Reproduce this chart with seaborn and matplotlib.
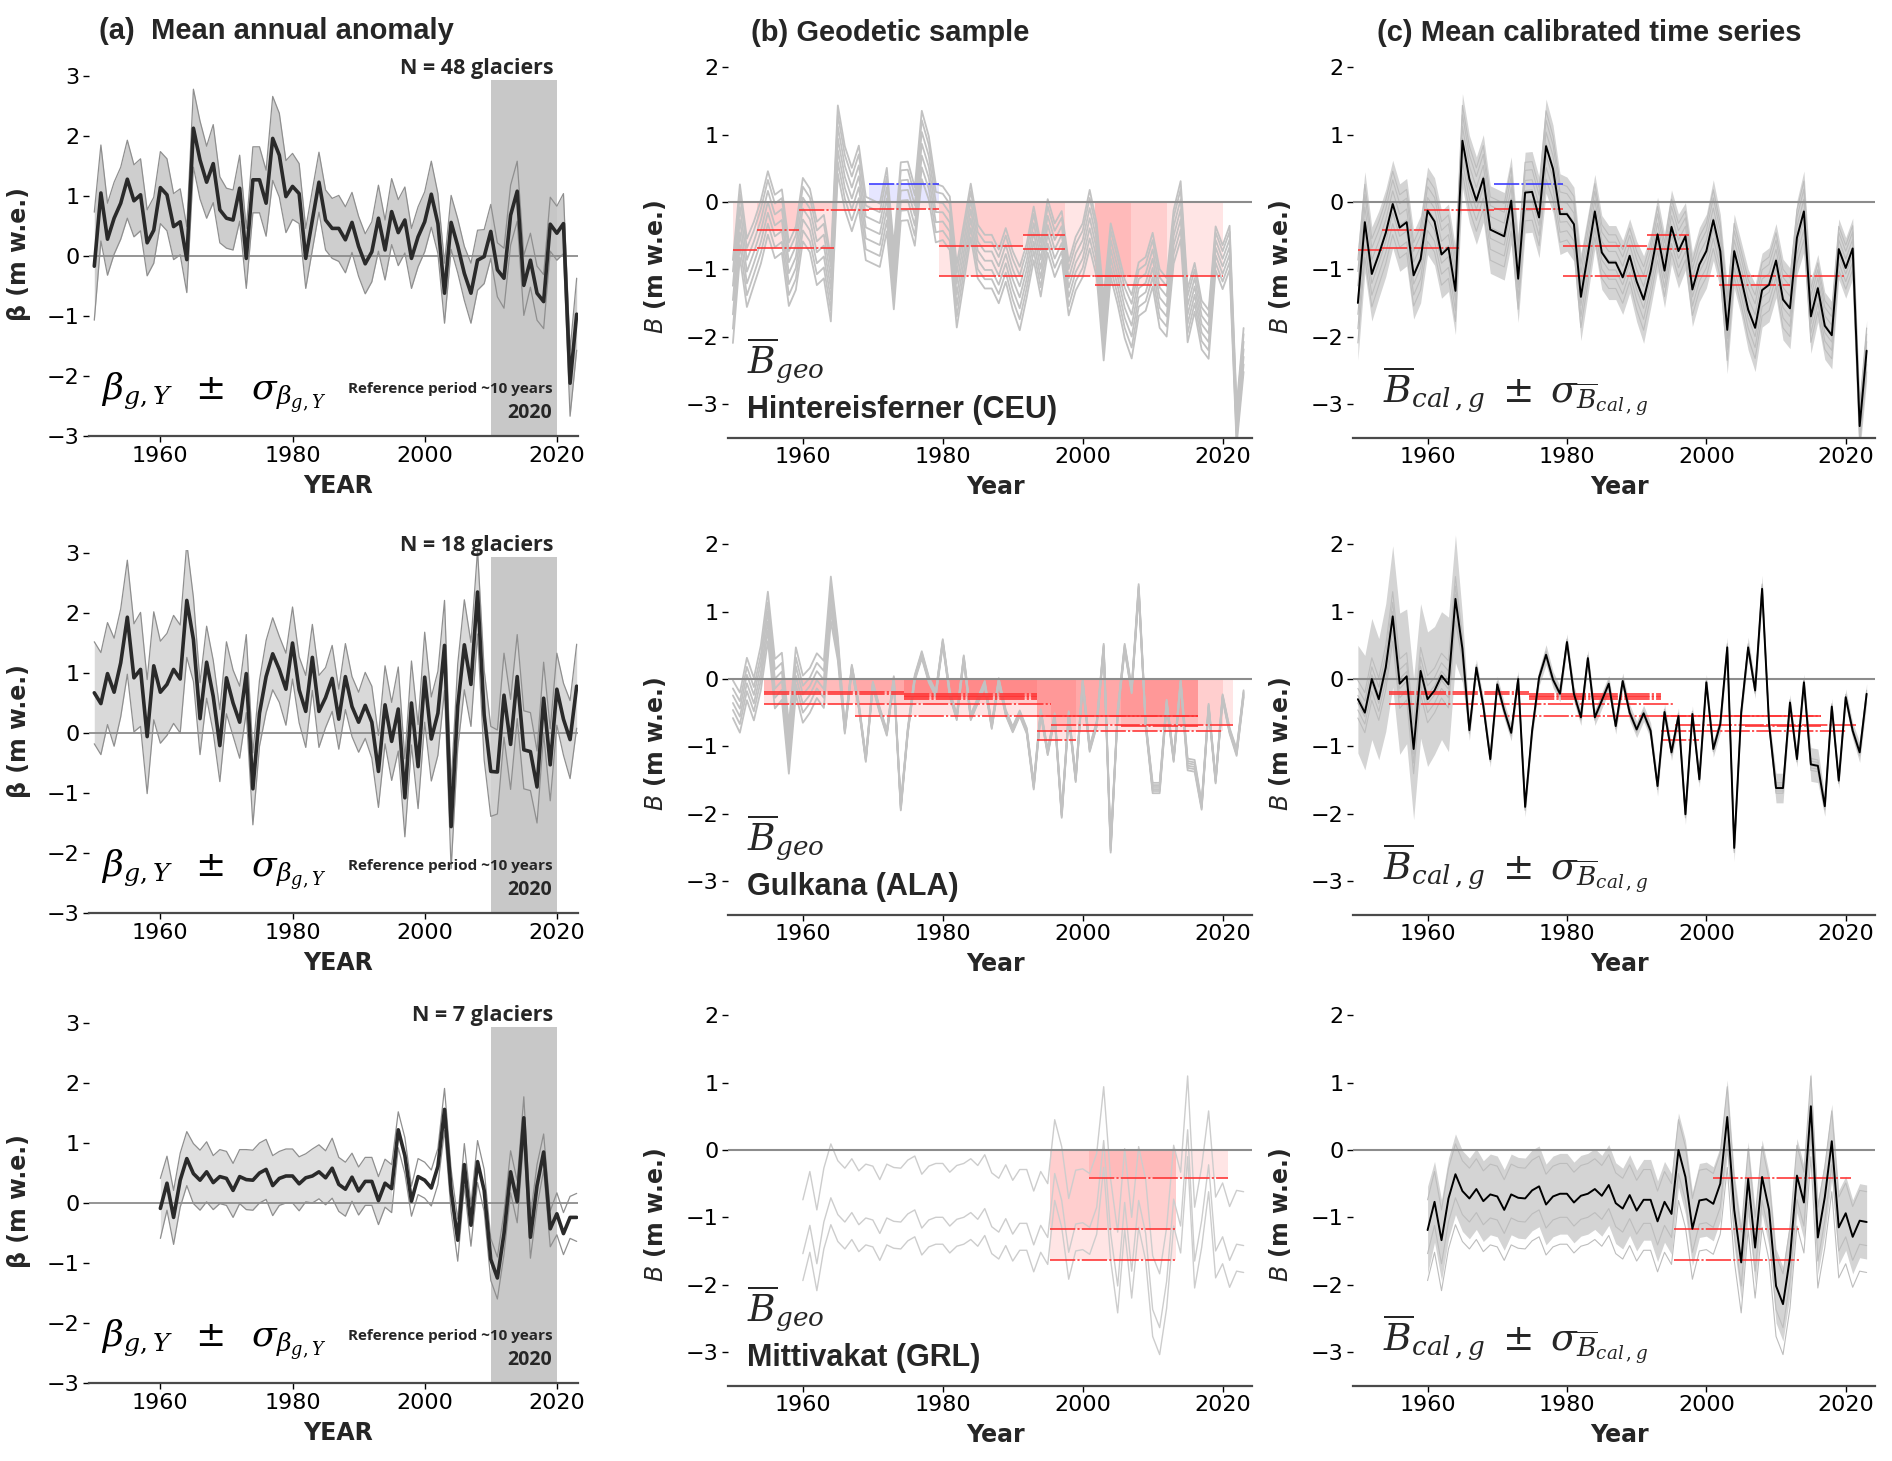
import numpy as np
import pandas as pd
import matplotlib
matplotlib.use("Agg")
import matplotlib.pyplot as plt
import seaborn as sns

# ---------------- data ----------------
years_full = list(range(1950, 2024))
years_grl = list(range(1960, 2024))

regions = ["Hintereisferner (CEU)", "Gulkana (ALA)", "Mittivakat (GRL)"]
n_glaciers = [48, 18, 7]
titles = ["(a)  Mean annual anomaly", "(b) Geodetic sample", "(c) Mean calibrated time series"]
x_ticks = [1960, 1980, 2000, 2020]
ref_period = (2010, 2020)

# Row 1 - Hintereisferner (CEU)
a1_mean = [-0.17, 1.05, 0.28, 0.63, 0.88, 1.28, 0.92, 1.02, 0.22, 0.43,
           1.14, 1.02, 0.49, 0.57, -0.06, 2.13, 1.60, 1.23, 1.54, 0.77,
           0.63, 0.60, 1.13, -0.04, 1.27, 1.27, 0.88, 1.96, 1.68, 0.99,
           1.16, 1.04, -0.04, 0.60, 1.23, 0.60, 0.46, 0.46, 0.27, 0.56,
           0.16, -0.13, 0.07, 0.63, 0.10, 0.74, 0.39, 0.60, -0.04, 0.32,
           0.57, 1.03, 0.54, -0.62, 0.56, 0.17, -0.29, -0.62, -0.07, -0.01,
           0.41, -0.23, -0.37, 0.68, 1.08, -0.49, -0.07, -0.62, -0.76, 0.53,
           0.38, 0.54, -2.12, -0.97]
a1_sd = [0.90, 0.80, 0.60, 0.60, 0.60, 0.65, 0.60, 0.60, 0.55, 0.55,
         0.60, 0.60, 0.55, 0.55, 0.55, 0.65, 0.65, 0.60, 0.65, 0.55,
         0.50, 0.50, 0.55, 0.50, 0.55, 0.55, 0.55, 0.70, 0.70, 0.60,
         0.55, 0.50, 0.50, 0.50, 0.50, 0.50, 0.50, 0.55, 0.55, 0.50,
         0.50, 0.50, 0.50, 0.55, 0.50, 0.55, 0.55, 0.55, 0.50, 0.50,
         0.50, 0.55, 0.50, 0.50, 0.45, 0.45, 0.45, 0.50, 0.50, 0.45,
         0.45, 0.45, 0.50, 0.50, 0.50, 0.50, 0.45, 0.45, 0.45, 0.45,
         0.45, 0.50, 0.55, 0.60]
c1_mean = [-1.50, -0.30, -1.07, -0.78, -0.46, -0.03, -0.38, -0.30, -1.09, -0.85,
           -0.13, -0.29, -0.78, -0.68, -1.32, 0.91, 0.34, 0.02, 0.35, -0.41,
           -0.46, -0.51, 0.02, -1.14, 0.14, 0.15, -0.23, 0.83, 0.49, -0.18,
           -0.18, -0.33, -1.41, -0.78, -0.14, -0.75, -0.90, -0.90, -1.12, -0.80,
           -1.18, -1.45, -1.03, -0.48, -1.02, -0.37, -0.73, -0.51, -1.30, -0.93,
           -0.73, -0.27, -0.73, -1.90, -0.73, -1.14, -1.60, -1.87, -1.31, -1.23,
           -0.87, -1.45, -1.58, -0.53, -0.14, -1.70, -1.28, -1.84, -1.98, -0.70,
           -0.98, -0.69, -3.33, -2.21]
c1_sd = [0.85, 0.75, 0.70, 0.65, 0.65, 0.65, 0.65, 0.65, 0.65, 0.65,
         0.65, 0.65, 0.65, 0.65, 0.65, 0.70, 0.65, 0.65, 0.65, 0.65,
         0.65, 0.65, 0.65, 0.65, 0.60, 0.60, 0.60, 0.70, 0.65, 0.60,
         0.55, 0.55, 0.65, 0.60, 0.55, 0.55, 0.55, 0.55, 0.55, 0.55,
         0.60, 0.65, 0.55, 0.55, 0.55, 0.55, 0.55, 0.50, 0.55, 0.55,
         0.55, 0.60, 0.55, 0.65, 0.55, 0.55, 0.60, 0.65, 0.55, 0.55,
         0.55, 0.60, 0.60, 0.55, 0.60, 0.55, 0.50, 0.50, 0.50, 0.45,
         0.45, 0.45, 0.40, 0.45]
# geodetic samples: start, end, mean balance
geo1_start = [1950.0, 1953.5, 1953.5, 1959.5, 1969.5, 1969.5, 1979.5, 1979.5, 1991.5, 1991.5, 1997.5, 2001.8, 2001.8]
geo1_end = [1953.5, 1959.5, 1964.5, 1969.5, 1979.5, 1979.5, 1991.5, 1991.5, 1997.5, 1997.5, 2006.9, 2012.0, 2020.0]
geo1_value = [-0.72, -0.41, -0.68, -0.12, -0.10, 0.27, -0.66, -1.10, -0.49, -0.70, -1.10, -1.23, -1.10]

# Row 2 - Gulkana (ALA)
a2_mean = [0.67, 0.49, 0.99, 0.68, 1.17, 1.93, 0.92, 1.06, -0.06, 1.12,
           0.68, 0.81, 1.06, 0.90, 2.21, 1.56, 0.24, 1.18, 0.61, -0.21,
           0.92, 0.50, 0.18, 0.99, -0.93, 0.33, 0.94, 1.32, 1.06, 0.73,
           1.50, 0.72, 0.36, 1.26, 0.36, 0.59, 0.91, 0.23, 0.94, 0.44,
           0.18, 0.46, 0.18, -0.64, 0.47, -0.14, 0.40, -1.08, 0.50, -0.56,
           0.93, -0.10, 0.33, 1.46, -1.56, 0.45, 1.47, 0.81, 2.35, 0.30,
           -0.64, -0.65, 0.63, -0.19, 0.94, -0.28, -0.31, -0.90, 0.58, -0.53,
           0.73, 0.23, -0.11, 0.78]
a2_sd = [0.85, 0.85, 0.85, 0.90, 0.90, 0.95, 0.90, 0.95, 0.95, 0.90,
         0.85, 0.85, 0.90, 0.90, 0.95, 0.70, 0.60, 0.60, 0.60, 0.60,
         0.60, 0.55, 0.60, 0.65, 0.60, 0.55, 0.60, 0.60, 0.55, 0.60,
         0.60, 0.55, 0.60, 0.55, 0.60, 0.50, 0.55, 0.50, 0.55, 0.50,
         0.50, 0.55, 0.60, 0.60, 0.65, 0.65, 0.70, 0.65, 0.70, 0.70,
         0.75, 0.70, 0.70, 0.75, 0.70, 0.70, 0.75, 0.70, 0.70, 0.75,
         0.75, 0.70, 0.70, 0.75, 0.70, 0.65, 0.65, 0.60, 0.60, 0.60,
         0.60, 0.60, 0.65, 0.70]
c2_mean = [-0.30, -0.50, 0.00, -0.30, 0.17, 0.93, -0.07, 0.04, -1.04, 0.12,
           -0.30, -0.17, 0.05, -0.08, 1.19, 0.45, -0.76, 0.17, -0.40, -1.19,
           -0.08, -0.47, -0.80, 0.00, -1.90, -0.77, 0.02, 0.36, -0.01, -0.22,
           0.55, -0.22, -0.57, 0.31, -0.57, -0.32, -0.07, -0.70, -0.03, -0.50,
           -0.75, -0.51, -0.77, -1.59, -0.49, -1.09, -0.55, -2.01, -0.52, -1.49,
           -0.05, -1.04, -0.67, 0.47, -2.51, -0.50, 0.47, -0.17, 1.34, -0.67,
           -1.62, -1.62, -0.35, -1.19, -0.05, -1.27, -1.29, -1.89, -0.41, -1.51,
           -0.27, -0.77, -1.09, -0.22]
c2_sd = [0.80, 0.85, 0.90, 0.90, 0.95, 1.05, 1.05, 1.00, 1.05, 1.00,
         1.00, 0.95, 0.95, 1.00, 0.95, 0.50, 0.15, 0.12, 0.12, 0.12,
         0.12, 0.12, 0.12, 0.12, 0.15, 0.12, 0.12, 0.15, 0.12, 0.12,
         0.12, 0.12, 0.12, 0.12, 0.12, 0.12, 0.12, 0.12, 0.12, 0.12,
         0.12, 0.12, 0.12, 0.15, 0.12, 0.12, 0.12, 0.15, 0.12, 0.12,
         0.12, 0.12, 0.12, 0.15, 0.20, 0.12, 0.15, 0.12, 0.20, 0.12,
         0.22, 0.22, 0.12, 0.12, 0.12, 0.25, 0.25, 0.15, 0.12, 0.12,
         0.12, 0.12, 0.15, 0.15]
geo2_start = [1954.5, 1954.5, 1954.5, 1967.5, 1974.5, 1974.5, 1974.5, 1974.5, 1993.5, 1995.5, 1993.5, 1993.5, 2005.5]
geo2_end = [1974.5, 1974.5, 1995.5, 2016.5, 1993.5, 1993.5, 1993.5, 1993.5, 2020.0, 2021.5, 1999.0, 2016.5, 2016.5]
geo2_value = [-0.20, -0.22, -0.37, -0.55, -0.22, -0.25, -0.27, -0.30, -0.77, -0.68, -0.90, -0.55, -0.70]

# Row 3 - Mittivakat (GRL), 1960-2023
a3_mean = [-0.09, 0.33, -0.24, 0.38, 0.74, 0.49, 0.38, 0.52, 0.34, 0.44,
           0.41, 0.21, 0.44, 0.39, 0.38, 0.50, 0.56, 0.29, 0.41, 0.45,
           0.45, 0.32, 0.42, 0.45, 0.52, 0.42, 0.58, 0.31, 0.23, 0.43,
           0.20, 0.36, 0.36, 0.04, 0.33, 0.24, 1.22, 0.79, 0.03, 0.44,
           0.38, 0.25, 0.61, 1.56, 0.21, -0.62, 0.64, -0.37, 0.69, 0.21,
           -0.94, -1.25, -0.51, 0.52, 0.02, 1.42, -0.57, 0.29, 0.85, -0.43,
           -0.18, -0.51, -0.24, -0.24]
a3_sd = [0.50, 0.45, 0.45, 0.45, 0.45, 0.50, 0.50, 0.50, 0.45, 0.45,
         0.45, 0.45, 0.45, 0.50, 0.50, 0.50, 0.50, 0.50, 0.45, 0.45,
         0.45, 0.45, 0.40, 0.45, 0.45, 0.45, 0.50, 0.45, 0.45, 0.40,
         0.40, 0.40, 0.40, 0.40, 0.40, 0.40, 0.30, 0.30, 0.25, 0.30,
         0.30, 0.30, 0.30, 0.35, 0.35, 0.35, 0.35, 0.35, 0.35, 0.35,
         0.35, 0.35, 0.35, 0.35, 0.35, 0.35, 0.35, 0.35, 0.30, 0.30,
         0.35, 0.35, 0.35, 0.40]
a3_band_end = 1995
c3_mean = [-1.19, -0.77, -1.34, -0.72, -0.36, -0.61, -0.72, -0.58, -0.76, -0.66,
           -0.69, -0.89, -0.66, -0.71, -0.72, -0.60, -0.54, -0.81, -0.69, -0.65,
           -0.65, -0.78, -0.68, -0.65, -0.58, -0.68, -0.52, -0.79, -0.87, -0.67,
           -0.90, -0.74, -0.74, -1.06, -0.77, -0.95, 0.00, -0.40, -1.17, -0.75,
           -0.73, -0.80, -0.50, 0.49, -0.89, -1.67, -0.43, -1.45, -0.40, -0.89,
           -2.02, -2.29, -1.60, -0.38, -0.78, 0.65, -1.30, -0.70, 0.13, -1.15,
           -0.94, -1.29, -1.05, -1.07]
c3_sd = [0.65, 0.60, 0.60, 0.60, 0.60, 0.60, 0.60, 0.60, 0.60, 0.60,
         0.60, 0.60, 0.60, 0.60, 0.60, 0.60, 0.60, 0.60, 0.60, 0.60,
         0.60, 0.60, 0.60, 0.60, 0.60, 0.60, 0.60, 0.60, 0.60, 0.60,
         0.60, 0.60, 0.60, 0.60, 0.60, 0.60, 0.55, 0.55, 0.55, 0.55,
         0.55, 0.55, 0.55, 0.55, 0.55, 0.55, 0.55, 0.55, 0.55, 0.55,
         0.55, 0.55, 0.55, 0.55, 0.55, 0.50, 0.55, 0.55, 0.55, 0.55,
         0.55, 0.55, 0.55, 0.55]
# vertical shift of each calibrated glacier series relative to the mean
b3_shift = [0.45, -0.35, -0.75]
geo3_start = [1995.3, 1995.3, 2000.9]
geo3_end = [2013.3, 2013.3, 2020.8]
geo3_value = [-1.18, -1.64, -0.41]

# spread positions of calibrated members within the sigma band (read from fans)
fan1 = [-0.70, -0.45, -0.20, 0.05, 0.30, 0.55, 0.75]
fan2 = [-0.35, -0.20, -0.07, 0.07, 0.20, 0.35]

# ---------------- style ----------------
sns.set_theme(style="white")
plt.rcParams["font.family"] = ["DejaVu Sans"]
plt.rcParams["mathtext.fontset"] = "dejavuserif"
plt.rcParams["axes.unicode_minus"] = True

W, H = 1892.0, 1461.0
fig = plt.figure(figsize=(W / 100, H / 100), dpi=100)
fig.patch.set_facecolor("white")

A_X = (89, 578)
B_X = (728, 1252)
C_X = (1353, 1875)
A_ZERO = [256, 733, 1203]
BC_ZERO = [202, 679, 1150]
A_UNIT, BC_UNIT = 60.0, 67.3
A_YLIM = (-3.0, 3.05)
BC_YLIM = (-3.5, 2.2)
A_XLIM = (1949.2, 2023.2)
BC_XLIM = (1949.3, 2024.2)

TITLE_FONT = dict(family=["Liberation Sans", "DejaVu Sans"], weight="bold")
OPEN_FONT = dict(family=["Open Sans", "DejaVu Sans"], weight="bold")


def add_ax(xr, zero, unit, ylim):
    top = zero - ylim[1] * unit
    bot = zero - ylim[0] * unit
    return fig.add_axes([xr[0] / W, 1 - bot / H, (xr[1] - xr[0]) / W, (bot - top) / H])


def style(ax, xlim, ylim, yticks):
    ax.set_xlim(*xlim)
    ax.set_ylim(*ylim)
    ax.set_xticks(x_ticks)
    ax.set_yticks(yticks)
    for s in ["top", "right", "left"]:
        ax.spines[s].set_visible(False)
    ax.spines["bottom"].set_color("#4a4a4a")
    ax.spines["bottom"].set_linewidth(1.6)
    ax.tick_params(axis="both", labelsize=16, length=4, width=1, colors="black",
                   left=True, bottom=True, pad=3)
    ax.set_facecolor("none")
    ax.grid(False)


def line(ax, x, y, color, lw, z, alpha=1.0):
    sns.lineplot(x=np.asarray(x), y=np.asarray(y), ax=ax, color=color, linewidth=lw,
                 zorder=z, alpha=alpha, errorbar=None, sort=False, legend=False)


def panel_a(ax, yrs, mean, sd, band_end, n, band_color):
    yrs = np.asarray(yrs, float)
    mean = np.asarray(mean, float)
    sd = np.asarray(sd, float)
    ax.fill_between(list(ref_period), A_YLIM[0], 2.94, color="#c8c8c8", lw=0, zorder=0.5)
    m = yrs <= band_end
    ax.fill_between(yrs[m], (mean - sd)[m], (mean + sd)[m], color=band_color, lw=0,
                    alpha=0.85, zorder=1)
    ax.axhline(0, color="#8c8c8c", lw=1.3, zorder=1.5)
    line(ax, yrs, mean - sd, "#8f8f8f", 0.9, 2)
    line(ax, yrs, mean + sd, "#8f8f8f", 0.9, 2)
    line(ax, yrs, mean, "#2a2a2a", 2.6, 3)
    style(ax, A_XLIM, A_YLIM, [-3, -2, -1, 0, 1, 2, 3])
    ax.text(2019.5, 3.12, f"N = {n} glaciers", ha="right", va="center", fontsize=15.5,
            clip_on=False, **OPEN_FONT)
    ax.text(2019.3, -2.21, "Reference period ~10 years", ha="right", va="center",
            fontsize=11, **OPEN_FONT)
    ax.text(2019.3, -2.62, "2020", ha="right", va="center", fontsize=14, **OPEN_FONT)
    ax.text(1951.0, -2.39, r"$\beta_{g,Y}\;\;\pm\;\;\sigma_{\beta_{g,Y}}$", ha="left",
            va="baseline", fontsize=26, color="black")
    ax.set_ylabel("β (m w.e.)", fontsize=17, fontweight="bold")
    ax.yaxis.set_label_coords(-0.119, 0.5)
    ax.set_xlabel("YEAR", fontsize=17, fontweight="bold")
    ax.xaxis.set_label_coords(0.51, -0.105)


def geo_rects(ax, starts, ends, vals):
    for s, e, v in zip(starts, ends, vals):
        col = "#2020ff" if v > 0 else "#ff1a1a"
        ax.fill_between([s, e], [0, 0], [v, v], color=col, alpha=0.11, lw=0, zorder=1)


def geo_lines(ax, starts, ends, vals):
    for s, e, v in zip(starts, ends, vals):
        col = "#3a3aff" if v > 0 else "#ff3333"
        ax.hlines(v, s, e, colors=col, lw=1.3, linestyles=(0, (14, 1.2, 1.2, 1.2)),
                  alpha=0.9, zorder=4)


def members(yrs, mean, sd, fan, shifts):
    mean = np.asarray(mean, float)
    sd = np.asarray(sd, float)
    if shifts is not None:
        return [mean + s for s in shifts]
    return [mean + f * sd for f in fan]


def bc_labels(ax):
    ax.set_ylabel(r"$B$ (m w.e.)", fontsize=17, fontweight="bold", math_fontfamily="dejavusans")
    ax.yaxis.set_label_coords(-0.114, 0.445)
    ax.set_xlabel("Year", fontsize=17, fontweight="bold")
    ax.xaxis.set_label_coords(0.51, -0.097)


def panel_b(ax, yrs, mean, sd, fan, shifts, gs, ge, gv, name, thin):
    geo_rects(ax, gs, ge, gv)
    mem = members(yrs, mean, sd, fan, shifts)
    for mm in mem:
        if thin:
            line(ax, yrs, mm, "#cdcdcd", 1.0, 2)
        else:
            line(ax, yrs, mm, "#c2c2c2", 1.3, 2)
    ax.axhline(0, color="#8c8c8c", lw=1.5, zorder=3)
    geo_lines(ax, gs, ge, gv)
    style(ax, BC_XLIM, BC_YLIM, [-3, -2, -1, 0, 1, 2])
    ax.text(1952.0, -2.53, r"$\overline{B}_{geo}$", ha="left", va="baseline", fontsize=27)
    ax.text(1952.0, -3.21, name, ha="left", va="baseline", fontsize=22, **TITLE_FONT)
    bc_labels(ax)


def panel_c(ax, yrs, mean, sd, fan, shifts, gs, ge, gv):
    yrs_a = np.asarray(yrs, float)
    mean_a = np.asarray(mean, float)
    sd_a = np.asarray(sd, float)
    ax.fill_between(yrs_a, mean_a - sd_a, mean_a + sd_a, color="#d4d4d4", lw=0, zorder=1)
    for mm in members(yrs, mean, sd, fan, shifts):
        line(ax, yrs, mm, "#bdbdbd", 0.8, 2)
    ax.axhline(0, color="#8c8c8c", lw=1.5, zorder=3)
    geo_lines(ax, gs, ge, gv)
    line(ax, yrs, mean, "black", 1.4, 5)
    style(ax, BC_XLIM, BC_YLIM, [-3, -2, -1, 0, 1, 2])
    ax.text(1953.6, -2.97, r"$\overline{B}_{cal\,,g}\;\pm\;\sigma_{\overline{B}_{cal\,,g}}$",
            ha="left", va="baseline", fontsize=27)
    bc_labels(ax)


rows = [
    dict(ay=years_full, am=a1_mean, asd=a1_sd, aend=2023, band="#c6c6c6",
         cy=years_full, cm=c1_mean, csd=c1_sd, fan=fan1, shifts=None,
         gs=geo1_start, ge=geo1_end, gv=geo1_value, thin=False),
    dict(ay=years_full, am=a2_mean, asd=a2_sd, aend=2023, band="#d3d3d3",
         cy=years_full, cm=c2_mean, csd=c2_sd, fan=fan2, shifts=None,
         gs=geo2_start, ge=geo2_end, gv=geo2_value, thin=False),
    dict(ay=years_grl, am=a3_mean, asd=a3_sd, aend=a3_band_end, band="#dadada",
         cy=years_grl, cm=c3_mean, csd=c3_sd, fan=None, shifts=b3_shift,
         gs=geo3_start, ge=geo3_end, gv=geo3_value, thin=True),
]

for i, r in enumerate(rows):
    ax_a = add_ax(A_X, A_ZERO[i], A_UNIT, A_YLIM)
    panel_a(ax_a, r["ay"], r["am"], r["asd"], r["aend"], n_glaciers[i], r["band"])
    ax_b = add_ax(B_X, BC_ZERO[i], BC_UNIT, BC_YLIM)
    panel_b(ax_b, r["cy"], r["cm"], r["csd"], r["fan"], r["shifts"],
            r["gs"], r["ge"], r["gv"], regions[i], r["thin"])
    ax_c = add_ax(C_X, BC_ZERO[i], BC_UNIT, BC_YLIM)
    panel_c(ax_c, r["cy"], r["cm"], r["csd"], r["fan"], r["shifts"],
            r["gs"], r["ge"], r["gv"])

fig.text(276 / W, 1 - 31 / H, titles[0], ha="center", va="center", fontsize=21, **TITLE_FONT)
fig.text(890 / W, 1 - 33 / H, titles[1], ha="center", va="center", fontsize=21, **TITLE_FONT)
fig.text(1589 / W, 1 - 33 / H, titles[2], ha="center", va="center", fontsize=21, **TITLE_FONT)

fig.savefig("out.png", dpi=100, facecolor="white")
